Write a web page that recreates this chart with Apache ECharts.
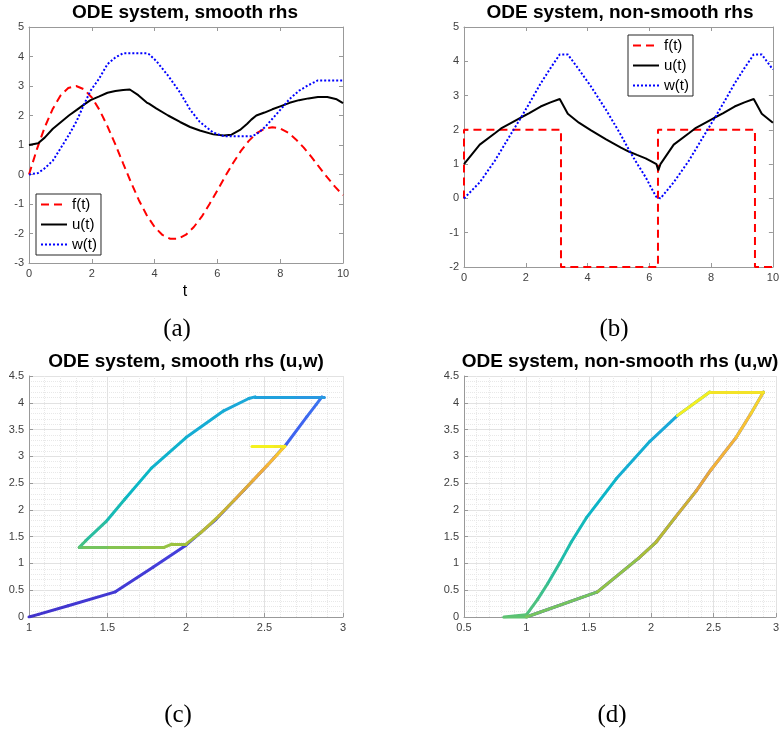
<!DOCTYPE html>
<html><head><meta charset="utf-8">
<script src="https://cdn.jsdelivr.net/npm/echarts@6/dist/echarts.min.js"></script>
<style>html,body{margin:0;padding:0;background:#fff}#c{width:782px;height:732px}</style>
</head><body><div id="c"></div>
<script>
// ---------- data ----------
// (a) smooth rhs: forcing f(t)
const tF = [0,0.25,0.5,0.75,1,1.25,1.5,1.75,2,2.25,2.5,2.75,3,3.25,3.5,3.75,4,4.25,4.5,4.75,5,5.25,5.5,5.75,6,6.25,6.5,6.75,7,7.25,7.5,7.75,8,8.25,8.5,8.75,9,9.25,9.5,9.75,10];
const fSmooth = [0,0.85,1.60,2.21,2.67,2.93,3.00,2.89,2.61,2.18,1.63,1.02,0.37,-0.27,-0.87,-1.38,-1.78,-2.05,-2.18,-2.18,-2.04,-1.78,-1.43,-1.00,-0.54,-0.06,0.39,0.80,1.14,1.40,1.55,1.60,1.56,1.42,1.19,0.91,0.59,0.24,-0.10,-0.42,-0.70];
// (a)/(c) smooth rhs: u(t), w(t)
const tS = [0,0.29,0.5,0.76,1.03,1.27,1.52,1.75,1.96,2.22,2.5,2.75,3.0,3.21,3.48,3.75,3.82,4.05,4.43,4.81,5.13,5.44,5.87,6.2,6.45,6.72,6.95,7.08,7.14,7.24,7.5,7.75,8.0,8.3,8.6,8.9,9.2,9.5,9.8,10];
const uS = [1.00,1.06,1.25,1.55,1.79,2.00,2.19,2.37,2.52,2.64,2.77,2.83,2.866,2.88,2.69,2.44,2.40,2.24,2.00,1.78,1.61,1.49,1.36,1.32,1.35,1.51,1.72,1.86,1.91,2.00,2.10,2.21,2.31,2.43,2.52,2.58,2.63,2.63,2.55,2.42];
const wS = [0.00,0.05,0.21,0.47,0.93,1.34,1.82,2.37,2.84,3.23,3.74,3.97,4.11,4.11,4.11,4.11,4.08,3.85,3.35,2.78,2.20,1.78,1.42,1.30,1.30,1.30,1.30,1.30,1.36,1.36,1.59,1.89,2.19,2.56,2.84,3.03,3.19,3.19,3.19,3.19];
// (b) non-smooth rhs: forcing f(t)
const tFN = [0,0,3.14,3.14,6.28,6.28,9.42,9.42,10];
const fNon = [0,2,2,-2,-2,2,2,-2,-2];
// (b)/(d) non-smooth rhs: u(t), w(t)
const tN = [0,0.51,1.0,1.2,1.5,1.84,2.1,2.48,2.8,3.1,3.36,3.72,4.1,4.6,5.08,5.35,5.6,5.88,6.05,6.23,6.29,6.36,6.79,7.28,7.48,7.78,8.12,8.38,8.76,9.08,9.38,9.64,10];
const uN = [1.00,1.57,1.90,2.04,2.19,2.36,2.48,2.68,2.80,2.90,2.47,2.21,1.99,1.72,1.48,1.36,1.27,1.17,1.09,1.00,0.82,1.00,1.57,1.90,2.04,2.19,2.36,2.48,2.68,2.80,2.90,2.47,2.21];
const wN = [0.00,0.47,1.10,1.40,1.85,2.35,2.75,3.35,3.80,4.20,4.20,3.76,3.28,2.58,1.85,1.40,1.02,0.62,0.33,0.04,0.00,0.00,0.47,1.10,1.40,1.85,2.35,2.75,3.35,3.80,4.20,4.20,3.76];
const legendNames = ['f(t)','u(t)','w(t)'];

// ---------- style ----------
const FONT = '"Liberation Sans", Arial, Helvetica, sans-serif';
const SERIF = '"Liberation Serif", "DejaVu Serif", serif';
const AX = '#999999';
const cStops = [[0,'#4030c8'],[1.3,'#4540dc'],[2.2,'#3f5ff0'],[3.0,'#3a78f0'],[3.3,'#2a98e2'],[3.8,'#1ca6da'],[4.5,'#12b0d0'],[5.0,'#0bb7c4'],[5.5,'#20bcaa'],[6.0,'#40c08a'],[6.5,'#70c462'],[7.0,'#90c448'],[7.4,'#aabf38'],[7.8,'#c4b630'],[8.3,'#eca83a'],[8.8,'#fbbc36'],[9.3,'#f6d62a'],[9.6,'#f2e826'],[10,'#f6f51c']];
function hex2rgb(h){return [parseInt(h.substr(1,2),16),parseInt(h.substr(3,2),16),parseInt(h.substr(5,2),16)];}
function colorAt(t){
  for(let i=0;i<cStops.length-1;i++){
    const a=cStops[i], b=cStops[i+1];
    if(t<=b[0]){
      const r=(t-a[0])/(b[0]-a[0]); const ca=hex2rgb(a[1]), cb=hex2rgb(b[1]);
      return 'rgb('+ca.map((v,k)=>Math.round(v+(cb[k]-v)*r)).join(',')+')';
    }
  }
  return cStops[cStops.length-1][1];
}
function segs(t,u,w){
  const out=[];
  for(let i=0;i<t.length-1;i++){
    out.push({coords:[[u[i],w[i]],[u[i+1],w[i+1]]], lineStyle:{color:colorAt((t[i]+t[i+1])/2)}});
  }
  return out;
}
const pairs=(x,y)=>x.map((v,i)=>[v,y[i]]);

const grids=[
  {left:29,top:27,width:314,height:236},
  {left:464,top:27,width:313,height:240},
  {left:29,top:376,width:314,height:241},
  {left:464,top:376,width:313,height:241}
];
function axis(gi,pos,min,max,interval,opts){
  opts=opts||{};
  return {
    type:'value', gridIndex:gi, position:pos, min:min, max:max, interval:interval,
    axisLine:{show:true,onZero:false,lineStyle:{color:AX,width:1}},
    axisTick:{show:true,inside:true,length:4,lineStyle:{color:AX}},
    axisLabel:{show:!opts.mirror,color:'#404040',fontSize:11,fontFamily:FONT,margin:5},
    splitLine:{show:!!opts.grid,lineStyle:{color:'#e2e2e2',width:1}},
    minorSplitLine:{show:!!opts.grid,lineStyle:{color:'#e8e8e8',type:'dotted',width:1}},
    minorTick:{show:false,splitNumber:5}
  };
}
const xAxes=[
  axis(0,'bottom',0,10,2), axis(0,'top',0,10,2,{mirror:true}),
  axis(1,'bottom',0,10,2), axis(1,'top',0,10,2,{mirror:true}),
  axis(2,'bottom',1,3,0.5,{grid:true}),
  axis(3,'bottom',0.5,3,0.5,{grid:true})
];
const yAxes=[
  axis(0,'left',-3,5,1), axis(0,'right',-3,5,1,{mirror:true}),
  axis(1,'left',-2,5,1), axis(1,'right',-2,5,1,{mirror:true}),
  axis(2,'left',0,4.5,0.5,{grid:true}),
  axis(3,'left',0,4.5,0.5,{grid:true})
];
function lineSeries(name,data,xi,color,type){
  return {type:'line',name:name,xAxisIndex:xi,yAxisIndex:xi,data:data,symbol:'none',showSymbol:false,
    lineStyle:{color:color,width:2,type:type},itemStyle:{color:color},animation:false,silent:true};
}
const series=[
  lineSeries('f(t)',pairs(tF,fSmooth),0,'#ff0000',[8,5]),
  lineSeries('u(t)',pairs(tS,uS),0,'#000000','solid'),
  lineSeries('w(t)',pairs(tS,wS),0,'#0000ff',[2,2]),
  lineSeries('f(t)',pairs(tFN,fNon),2,'#ff0000',[8,5]),
  lineSeries('u(t)',pairs(tN,uN),2,'#000000','solid'),
  lineSeries('w(t)',pairs(tN,wN),2,'#0000ff',[2,2]),
  {type:'lines',coordinateSystem:'cartesian2d',xAxisIndex:4,yAxisIndex:4,polyline:false,silent:true,
    lineStyle:{width:3,opacity:1,cap:'round',curveness:0},data:segs(tS,uS,wS),z:3},
  {type:'lines',coordinateSystem:'cartesian2d',xAxisIndex:5,yAxisIndex:5,polyline:false,silent:true,
    lineStyle:{width:3,opacity:1,cap:'round',curveness:0},data:segs(tN,uN,wN),z:3}
];
function legend(left,top){
  return {data:legendNames,left:left,top:top,orient:'vertical',selectedMode:false,
    backgroundColor:'#fff',borderColor:'#262626',borderWidth:1,borderRadius:0,padding:[3,4,3,4],
    itemWidth:26,itemHeight:14,itemGap:5,itemStyle:{opacity:0},
    textStyle:{fontSize:15,color:'#000',fontFamily:FONT}};
}
function txt(s,x,y,font){
  return {type:'text',x:x,y:y,silent:true,z:100,style:{text:s,font:font,fill:'#000',align:'center',verticalAlign:'middle',textAlign:'center',textVerticalAlign:'middle'}};
}
const chart=echarts.init(document.getElementById('c'));
chart.setOption({
  animation:false,
  backgroundColor:'#fff',
  grid:grids,
  xAxis:xAxes,
  yAxis:yAxes,
  series:series,
  legend:[legend(36,194),legend(628,35)],
  graphic:[
    txt('ODE system, smooth rhs',185,13,'bold 19px '+FONT),
    txt('ODE system, non-smooth rhs',620,13,'bold 19px '+FONT),
    txt('ODE system, smooth rhs (u,w)',186,362,'bold 19px '+FONT),
    txt('ODE system, non-smooth rhs (u,w)',620,362,'bold 19px '+FONT),
    txt('t',185,292,'16px '+FONT),
    txt('(a)',177,329,'25px '+SERIF),
    txt('(b)',614,329,'25px '+SERIF),
    txt('(c)',178,715,'25px '+SERIF),
    txt('(d)',612,715,'25px '+SERIF)
  ]
});
</script></body></html>
